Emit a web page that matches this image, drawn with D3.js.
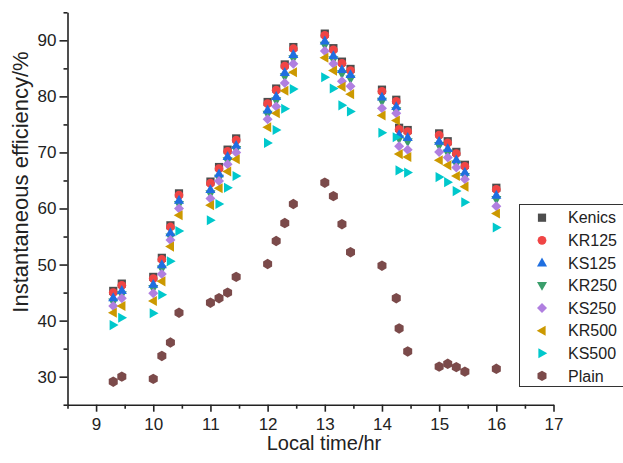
<!DOCTYPE html>
<html>
<head>
<meta charset="utf-8">
<script src="https://cdn.jsdelivr.net/npm/d3@7"></script>
<style>
  body { margin: 0; background: #fff; }
  svg { display: block; font-family: Arial, "Liberation Sans", sans-serif; }
</style>
</head>
<body>
<div id="chart"></div>
<script>
// clock times as plotted (9.30 = half past nine, drawn at 9.3)
const times = [9.30, 9.45, 10.00, 10.15, 10.30, 10.45, 11.00, 11.15, 11.30, 11.45,
  12.00, 12.15, 12.30, 12.45, 13.00, 13.15, 13.30, 13.45, 14.00, 14.25, 14.30, 14.45,
  15.00, 15.15, 15.30, 15.45, 16.00];

const kenics = [45.3, 46.6, 47.8, 51.2, 57.0, 62.7, 64.8, 67.4, 70.5, 72.5, 79.0, 81.4, 85.7, 88.8,
  91.2, 88.6, 86.2, 84.9, 81.2, 79.4, 74.4, 74.0, 73.4, 72.0, 70.1, 67.8, 63.7];
const kr125 = [45.0, 46.3, 47.5, 50.9, 56.7, 62.4, 64.5, 67.1, 70.2, 72.2, 78.7, 81.1, 85.4, 88.5,
  90.9, 88.3, 85.9, 84.6, 80.9, 79.1, 74.1, 73.7, 73.1, 71.7, 69.8, 67.5, 63.4];
const ks125 = [44.1, 45.4, 46.5, 50.0, 55.7, 61.5, 63.4, 66.2, 69.3, 71.3, 77.6, 80.0, 84.3, 87.5,
  89.9, 87.3, 84.8, 83.9, 79.9, 78.2, 73.2, 72.7, 72.0, 70.7, 68.7, 66.5, 62.4];
const kr250 = [43.3, 44.6, 45.7, 49.2, 54.9, 60.7, 62.6, 65.4, 68.5, 70.5, 76.8, 79.2, 83.5, 86.7,
  89.1, 86.5, 84.0, 83.1, 79.1, 77.4, 72.4, 71.9, 71.2, 69.9, 67.9, 65.7, 61.6];
const ks250 = [42.6, 44.0, 44.9, 48.3, 54.4, 60.0, 61.8, 64.9, 67.9, 70.0, 75.9, 78.2, 82.4, 85.8,
  88.1, 85.8, 82.7, 81.8, 77.9, 77.0, 71.1, 70.5, 70.1, 69.1, 67.3, 65.2, 60.4];
const kr500 = [41.4, 42.6, 43.5, 47.0, 53.2, 58.8, 60.6, 63.6, 66.6, 68.8, 74.5, 77.0, 81.0, 84.3,
  86.9, 84.6, 81.7, 80.4, 76.6, 75.7, 69.7, 69.2, 68.6, 67.7, 65.8, 63.9, 59.1];
const ks500 = [39.2, 40.5, 41.3, 44.6, 50.6, 56.0, 57.9, 60.8, 63.7, 65.8, 71.7, 74.0, 77.8, 81.3,
  83.4, 81.4, 78.4, 77.3, 73.5, 72.7, 66.8, 66.4, 65.6, 64.7, 63.1, 61.1, 56.6];
const plain = [29.1, 30.0, 29.6, 33.7, 36.1, 41.4, 43.2, 44.0, 45.0, 47.8, 50.1, 54.2, 57.4, 60.8,
  64.6, 62.2, 57.2, 52.2, 49.8, 44.0, 38.6, 34.5, 31.8, 32.3, 31.7, 30.9, 31.4];

const xTicks = [9, 10, 11, 12, 13, 14, 15, 16, 17];
const yTicks = [30, 40, 50, 60, 70, 80, 90];

const w = 623;
const h = 463;

// custom marker shapes (size = half width in px)
function polygon(points) {
  return {
    draw(ctx, r) {
      points.forEach(([a, b], i) => (i ? ctx.lineTo(a * r, b * r) : ctx.moveTo(a * r, b * r)));
      ctx.closePath();
    }
  };
}
const shapes = {
  square: polygon([[-1, -1], [1, -1], [1, 1], [-1, 1]]),
  circle: { draw(ctx, r) { ctx.moveTo(r, 0); ctx.arc(0, 0, r, 0, 2 * Math.PI); } },
  up: polygon([[0, -1.1], [1.05, 0.75], [-1.05, 0.75]]),
  down: polygon([[0, 1.1], [1.05, -0.75], [-1.05, -0.75]]),
  diamond: polygon([[0, -1], [1, 0], [0, 1], [-1, 0]]),
  left: polygon([[-1.1, 0], [0.75, -1.05], [0.75, 1.05]]),
  right: polygon([[1.1, 0], [-0.75, -1.05], [-0.75, 1.05]]),
  hex: polygon(d3.range(6).map((i) => [Math.sin(i * Math.PI / 3), -Math.cos(i * Math.PI / 3)]))
};

const series = [
  { name: "Kenics", values: kenics, shape: "square", r: 4.1, color: "#4d4d4d" },
  { name: "KR125", values: kr125, shape: "circle", r: 4.4, color: "#f04545" },
  { name: "KR250", values: kr250, shape: "down", r: 4.8, color: "#3a9e6b" },
  { name: "KS125", values: ks125, shape: "up", r: 4.8, color: "#1f6fe0" },
  { name: "KS250", values: ks250, shape: "diamond", r: 5, color: "#b07fe0" },
  { name: "KR500", values: kr500, shape: "left", r: 4.8, color: "#cc9900" },
  { name: "KS500", values: ks500, shape: "right", r: 4.8, color: "#00c8cc" },
  { name: "Plain", values: plain, shape: "hex", r: 5.2, color: "#7b4a4a" }
];
const legendOrder = ["Kenics", "KR125", "KS125", "KR250", "KS250", "KR500", "KS500", "Plain"];

const x = d3.scaleLinear().domain([8.5, 17]).range([67.5, 553.5]);
const y = d3.scaleLinear().domain([25, 95]).range([404.7, 12.3]);

const svg = d3.select("#chart").append("svg").attr("width", w).attr("height", h);
svg.append("rect").attr("width", w).attr("height", h).attr("fill", "#fff");

// minor ticks
svg.append("g")
  .attr("transform", `translate(0,${y(25)})`)
  .call(d3.axisBottom(x).tickValues(d3.range(8.5, 17, 1)).tickSize(4).tickSizeOuter(0).tickFormat(""))
  .call((g) => g.select(".domain").remove());
svg.append("g")
  .attr("transform", `translate(${x(8.5)},0)`)
  .call(d3.axisLeft(y).tickValues(d3.range(25, 96, 10)).tickSize(4).tickSizeOuter(0).tickFormat(""))
  .call((g) => g.select(".domain").remove());

// major axes
svg.append("g")
  .attr("transform", `translate(0,${y(25)})`)
  .call(d3.axisBottom(x).tickValues(xTicks).tickSize(7).tickSizeOuter(0).tickPadding(6));
svg.append("g")
  .attr("transform", `translate(${x(8.5)},0)`)
  .call(d3.axisLeft(y).tickValues(yTicks).tickSize(8).tickSizeOuter(0).tickPadding(3));

svg.selectAll(".tick line, .domain").attr("stroke", "#222").attr("stroke-width", 1.6);
svg.selectAll(".tick text").attr("font-size", 17).attr("fill", "#222")
  .attr("font-family", "Arial, 'Liberation Sans', sans-serif");

// axis titles
svg.append("text")
  .attr("x", 324).attr("y", 450)
  .attr("text-anchor", "middle").attr("font-size", 20).attr("fill", "#222")
  .text("Local time/hr");
svg.append("text")
  .attr("transform", "translate(28,182) rotate(-90)")
  .attr("text-anchor", "middle").attr("font-size", 22).attr("fill", "#222")
  .text("Instantaneous efficiency/%");

// points
const sym = d3.symbol();
series.forEach((s) => {
  svg.append("g")
    .selectAll("path")
    .data(s.values)
    .enter()
    .append("path")
    .attr("transform", (d, i) => `translate(${x(times[i])},${y(d)})`)
    .attr("d", sym.type(shapes[s.shape]).size(s.r))
    .attr("fill", s.color);
});

// legend
const legend = svg.append("g");
legend.append("rect")
  .attr("x", 519.5).attr("y", 204.5).attr("width", 110).attr("height", 182)
  .attr("fill", "#fff").attr("stroke", "#333").attr("stroke-width", 1);
legendOrder.forEach((name, i) => {
  const s = series.find((d) => d.name === name);
  const ly = 217.7 + i * 22.6;
  legend.append("path")
    .attr("transform", `translate(542,${ly})`)
    .attr("d", d3.symbol().type(shapes[s.shape]).size(s.r)())
    .attr("fill", s.color);
  legend.append("text")
    .attr("x", 568).attr("y", ly).attr("dy", "0.36em")
    .attr("font-size", 16).attr("fill", "#222")
    .text(name);
});
</script>
</body>
</html>
